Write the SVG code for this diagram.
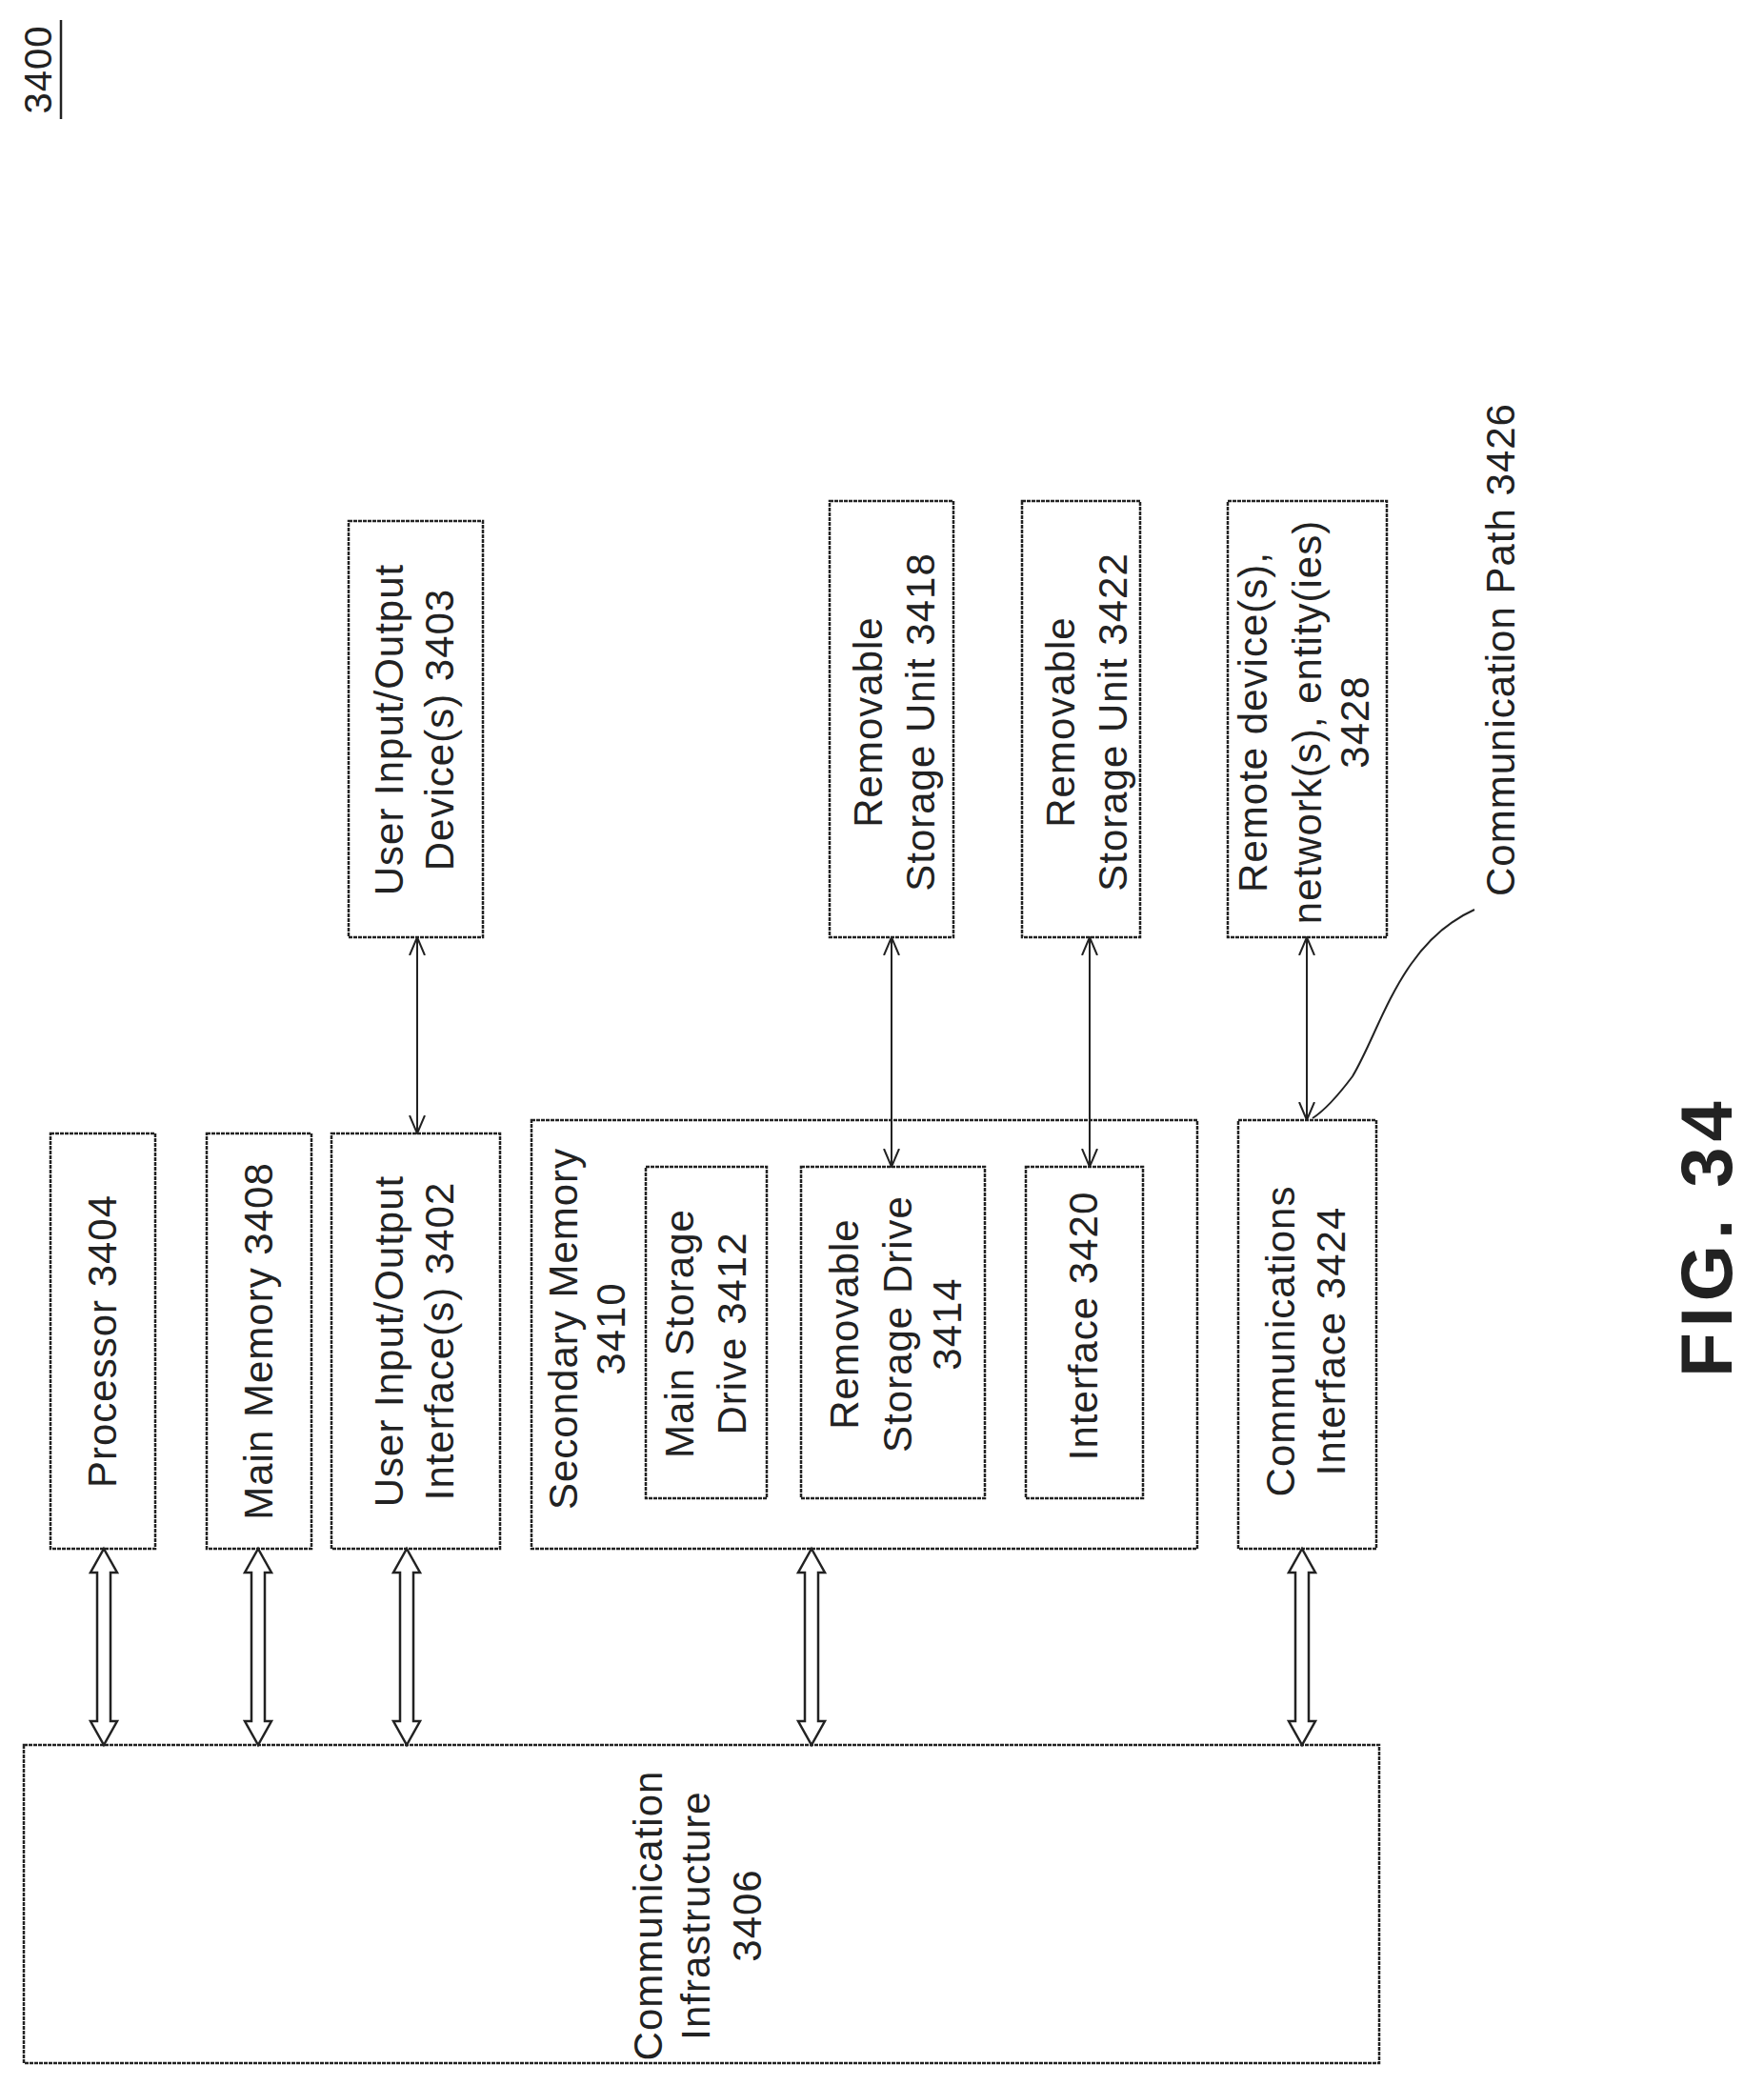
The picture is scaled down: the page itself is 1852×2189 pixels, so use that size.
<svg xmlns="http://www.w3.org/2000/svg" width="1852" height="2189" viewBox="0 0 1852 2189">
<style>
.b{fill:none;stroke:#222;stroke-width:2.5;stroke-dasharray:4,1}
.t{font-family:"Liberation Sans",Arial,sans-serif;font-size:42px;fill:#222;text-anchor:middle;letter-spacing:1px}
.c{fill:none;stroke:#222;stroke-width:2}
.h{fill:#fff;stroke:#222;stroke-width:2.5}
</style>
<defs>
<marker id="v" viewBox="0 0 20 20" refX="19" refY="10" markerWidth="20" markerHeight="20" markerUnits="userSpaceOnUse" orient="auto-start-reverse">
<path d="M0,2 L19,10 L0,18" fill="none" stroke="#222" stroke-width="2"/>
</marker>
</defs>
<rect width="1852" height="2189" fill="#fff"/>
<g id="label3400">
<text class="t" transform="translate(54,73) rotate(-90)" style="font-size:40px">3400</text>
<line x1="64" y1="21" x2="64" y2="125" stroke="#222" stroke-width="2.5"/>
</g>
<g id="processor"><rect class="b" x="53" y="1190" width="110" height="436"/>
<text class="t" transform="translate(108,1408) rotate(-90)"><tspan x="0" dy="14">Processor 3404</tspan></text></g>
<g id="mainmemory"><rect class="b" x="217" y="1190" width="110" height="436"/>
<text class="t" transform="translate(272,1408) rotate(-90)"><tspan x="0" dy="14">Main Memory 3408</tspan></text></g>
<g id="uiif"><rect class="b" x="348" y="1190" width="177" height="436"/>
<text class="t" transform="translate(436,1408) rotate(-90)"><tspan x="0" dy="-13">User Input/Output</tspan><tspan x="0" dy="53">Interface(s) 3402</tspan></text></g>
<g id="secmem"><rect class="b" x="558" y="1176" width="699" height="450"/>
<text class="t" transform="translate(616,1395) rotate(-90)"><tspan x="0" dy="-10">Secondary Memory</tspan><tspan x="0" dy="50">3410</tspan></text></g>
<g id="msd"><rect class="b" x="678" y="1225" width="127" height="348"/>
<text class="t" transform="translate(741,1400) rotate(-90)"><tspan x="0" dy="-13">Main Storage</tspan><tspan x="0" dy="55">Drive  3412</tspan></text></g>
<g id="rsd"><rect class="b" x="841" y="1225" width="193" height="348"/>
<text class="t" transform="translate(937,1390) rotate(-90)"><tspan x="0" dy="-36">Removable</tspan><tspan x="0" dy="56">Storage Drive</tspan><tspan x="0" dy="52">3414</tspan></text></g>
<g id="if3420"><rect class="b" x="1077" y="1225" width="123" height="348"/>
<text class="t" transform="translate(1138,1392) rotate(-90)"><tspan x="0" dy="14">Interface 3420</tspan></text></g>
<g id="commif"><rect class="b" x="1300" y="1176" width="145" height="450"/>
<text class="t" transform="translate(1372,1408) rotate(-90)"><tspan x="0" dy="-13">Communications</tspan><tspan x="0" dy="53">Interface 3424</tspan></text></g>
<g id="infra"><rect class="b" x="25" y="1832" width="1423" height="334"/>
<text class="t" transform="translate(733,2011) rotate(-90)"><tspan x="0" dy="-38">Communication</tspan><tspan x="0" dy="50">Infrastructure</tspan><tspan x="0" dy="54">3406</tspan></text></g>
<g id="uidev"><rect class="b" x="366" y="547" width="141" height="437"/>
<text class="t" transform="translate(436,766) rotate(-90)"><tspan x="0" dy="-13">User Input/Output</tspan><tspan x="0" dy="53">Device(s) 3403</tspan></text></g>
<g id="rsu3418"><rect class="b" x="871" y="526" width="130" height="458"/>
<text class="t" transform="translate(939,758) rotate(-90)"><tspan x="0" dy="-13">Removable</tspan><tspan x="0" dy="55">Storage Unit 3418</tspan></text></g>
<g id="rsu3422"><rect class="b" x="1073" y="526" width="124" height="458"/>
<text class="t" transform="translate(1141,758) rotate(-90)"><tspan x="0" dy="-13">Removable</tspan><tspan x="0" dy="55">Storage Unit 3422</tspan></text></g>
<g id="remote"><rect class="b" x="1289" y="526" width="167" height="458"/>
<text class="t" transform="translate(1372,758) rotate(-90)"><tspan x="0" dy="-42">Remote device(s),</tspan><tspan x="0" dy="57">network(s), entity(ies)</tspan><tspan x="0" dy="50">3428</tspan></text></g>
<g id="pathlabel">
<text class="t" transform="translate(1590,682) rotate(-90)">Communication Path 3426</text></g>
<g id="fig"><text class="t" transform="translate(1818,1298) rotate(-90)" style="font-size:76px;font-weight:bold;letter-spacing:6px">FIG. 34</text></g>
<g id="connectors">
<polygon class="h" points="109,1626 123,1651 116,1651 116,1807 123,1807 109,1832 95,1807 102,1807 102,1651 95,1651"/>
<polygon class="h" points="271,1626 285,1651 278,1651 278,1807 285,1807 271,1832 257,1807 264,1807 264,1651 257,1651"/>
<polygon class="h" points="427,1626 441,1651 434,1651 434,1807 441,1807 427,1832 413,1807 420,1807 420,1651 413,1651"/>
<polygon class="h" points="852,1626 866,1651 859,1651 859,1807 866,1807 852,1832 838,1807 845,1807 845,1651 838,1651"/>
<polygon class="h" points="1367,1626 1381,1651 1374,1651 1374,1807 1381,1807 1367,1832 1353,1807 1360,1807 1360,1651 1353,1651"/>
<line class="c" x1="438" y1="984" x2="438" y2="1190" marker-start="url(#v)" marker-end="url(#v)"/>
<line class="c" x1="936" y1="984" x2="936" y2="1225" marker-start="url(#v)" marker-end="url(#v)"/>
<line class="c" x1="1144" y1="984" x2="1144" y2="1225" marker-start="url(#v)" marker-end="url(#v)"/>
<line class="c" x1="1372" y1="984" x2="1372" y2="1176" marker-start="url(#v)" marker-end="url(#v)"/>
<path class="c" d="M1548,955 C1470,990 1450,1080 1420,1130 C1405,1150 1392,1165 1378,1174"/>
</g>
</svg>
